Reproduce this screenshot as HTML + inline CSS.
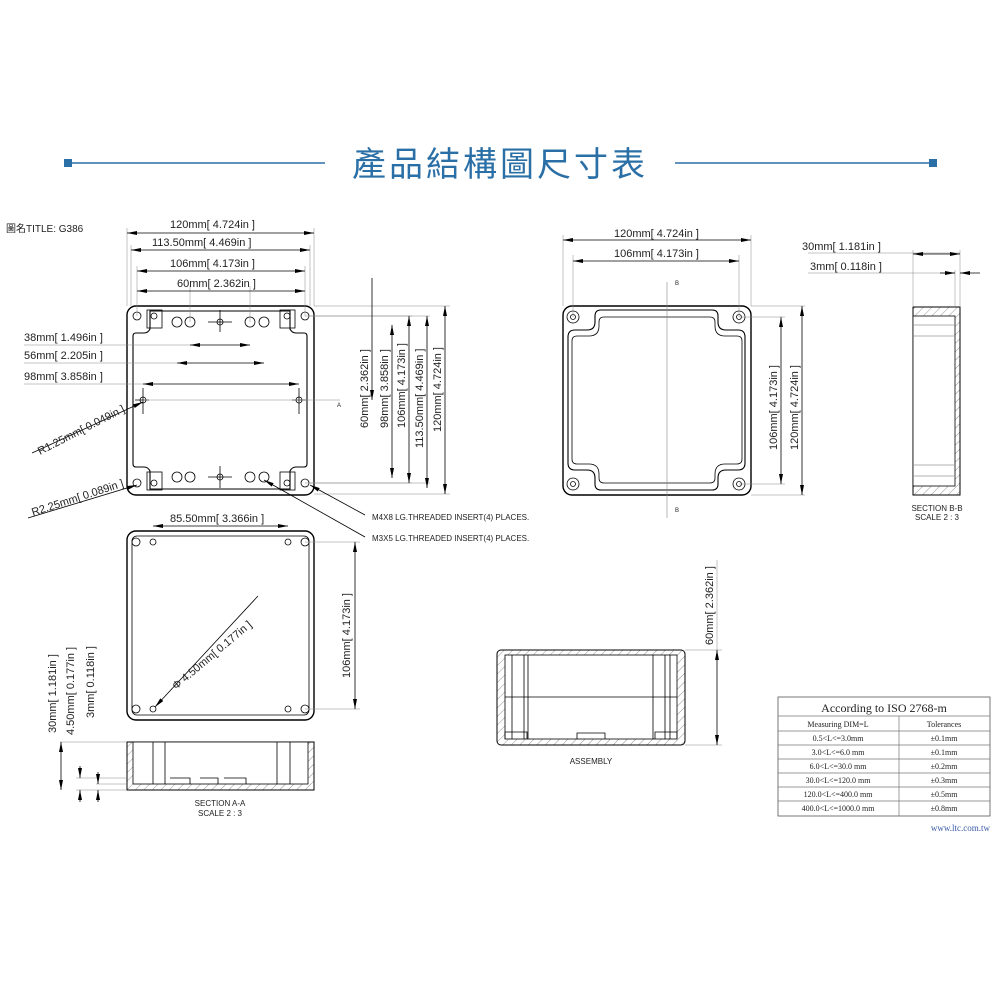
<!DOCTYPE html>
<html><head><meta charset="utf-8"><style>
html,body{margin:0;padding:0;background:#fff;}
svg{display:block;}
text{font-family:"Liberation Sans","Noto Sans CJK TC",sans-serif;fill:#222;}
</style></head><body>
<svg width="1000" height="1000" viewBox="0 0 1000 1000" xmlns="http://www.w3.org/2000/svg">
<defs>
<marker id="a" viewBox="0 0 10 4" refX="10" refY="2" markerWidth="10" markerHeight="4" orient="auto-start-reverse" markerUnits="userSpaceOnUse"><path d="M0,0L10,2L0,4z" fill="#000"/></marker>
<pattern id="h" width="6" height="6" patternUnits="userSpaceOnUse" patternTransform="rotate(45)"><line x1="0" y1="0" x2="0" y2="6" stroke="#666" stroke-width="0.7"/></pattern>
</defs>
<!-- header -->
<line x1="68" y1="163" x2="325" y2="163" stroke="#2a6fa6" stroke-width="1.5"/>
<line x1="675" y1="163" x2="933" y2="163" stroke="#2a6fa6" stroke-width="1.5"/>
<rect x="64" y="159" width="8" height="8" fill="#2a6fa6"/>
<rect x="929" y="159" width="8" height="8" fill="#2a6fa6"/>
<text x="500" y="176" font-size="34" text-anchor="middle" style="fill:#2a6fa6;letter-spacing:3px">產品結構圖尺寸表</text>
<text x="6" y="232" font-size="10">圖名TITLE: G386</text>

<g stroke="#000" fill="none" stroke-width="0.8">
<!-- top-left view -->
<rect x="127" y="306" width="187" height="189" rx="9" stroke-width="1.4"/>
<path d="M133,336 q0,-3 3,-3 h8 q4,0 6,-4 v-18 h140 v18 q2,4 6,4 h8 q3,0 3,3 v128 q0,3 -3,3 h-8 q-4,0 -6,4 v18 h-140 v-18 q-2,-4 -6,-4 h-8 q-3,0 -3,-3z" stroke-width="1.1"/>
<rect x="147" y="310" width="15" height="18"/><rect x="280" y="310" width="15" height="18"/>
<rect x="147" y="472" width="15" height="18"/><rect x="280" y="472" width="15" height="18"/>
<circle cx="137" cy="316" r="4"/><circle cx="305" cy="316" r="4"/><circle cx="137" cy="483" r="4"/><circle cx="305" cy="483" r="4"/>
<circle cx="154" cy="316" r="3"/><circle cx="287" cy="316" r="3"/><circle cx="154" cy="483" r="3"/><circle cx="287" cy="483" r="3"/>
<circle cx="177" cy="322" r="5"/><circle cx="190" cy="322" r="5"/><circle cx="250" cy="322" r="5"/><circle cx="264" cy="322" r="5"/>
<circle cx="177" cy="477" r="5"/><circle cx="190" cy="477" r="5"/><circle cx="250" cy="477" r="5"/><circle cx="264" cy="477" r="5"/>
<path d="M208,322 h24 M220,310 v22 M143,388 v26 M135,400 h14 M299,388 v26 M292,400 h14 M208,477 h24 M220,466 v22"/>
<circle cx="220" cy="322" r="3"/><circle cx="143" cy="400" r="3"/><circle cx="299" cy="400" r="3"/><circle cx="220" cy="477" r="3"/>
<!-- dims top -->
<path d="M127,306 V228 M314,306 V228 M131,306 V245 M310,306 V245 M137,316 V266 M305,316 V266 M190,322 V286 M250,322 V286" stroke="#888" stroke-width="0.5"/>
<line x1="127" y1="233" x2="314" y2="233" marker-start="url(#a)" marker-end="url(#a)"/>
<line x1="131" y1="250" x2="310" y2="250" marker-start="url(#a)" marker-end="url(#a)"/>
<line x1="137" y1="271" x2="305" y2="271" marker-start="url(#a)" marker-end="url(#a)"/>
<line x1="137" y1="291" x2="305" y2="291" marker-start="url(#a)" marker-end="url(#a)"/>
<line x1="190" y1="345" x2="250" y2="345" marker-start="url(#a)" marker-end="url(#a)"/>
<line x1="177" y1="363" x2="264" y2="363" marker-start="url(#a)" marker-end="url(#a)"/>
<line x1="143" y1="384" x2="299" y2="384" marker-start="url(#a)" marker-end="url(#a)"/>
<path d="M24,345 H190 M24,363 H177 M24,384 H143 M143,400 H340 M314,306 H450 M310,316 H430 M305,316 H412 M305,483 H412 M310,483 H430 M314,494 H450" stroke="#888" stroke-width="0.5"/>
<line x1="372" y1="278" x2="372" y2="400" marker-end="url(#a)"/>
<line x1="392" y1="325" x2="392" y2="478" marker-start="url(#a)" marker-end="url(#a)"/>
<line x1="409" y1="316" x2="409" y2="483" marker-start="url(#a)" marker-end="url(#a)"/>
<line x1="427" y1="316" x2="427" y2="488" marker-start="url(#a)" marker-end="url(#a)"/>
<line x1="445" y1="306" x2="445" y2="494" marker-start="url(#a)" marker-end="url(#a)"/>
<line x1="32" y1="453" x2="143" y2="402" marker-end="url(#a)"/>
<line x1="28" y1="518" x2="137" y2="485" marker-end="url(#a)"/>
<line x1="365" y1="515" x2="310" y2="485" marker-end="url(#a)"/>
<line x1="365" y1="537" x2="264" y2="480" marker-end="url(#a)"/>
<!-- bottom view -->
<rect x="127" y="531" width="187" height="189" rx="9" stroke-width="1.4"/>
<rect x="132" y="536" width="177" height="179" rx="5"/>
<circle cx="136" cy="542" r="4"/><circle cx="305" cy="542" r="4"/><circle cx="136" cy="709" r="4"/><circle cx="305" cy="709" r="4"/>
<circle cx="153" cy="542" r="3"/><circle cx="288" cy="542" r="3"/><circle cx="153" cy="709" r="3"/><circle cx="288" cy="709" r="3"/>
<line x1="153" y1="526" x2="288" y2="526" marker-start="url(#a)" marker-end="url(#a)"/>
<path d="M305,542 H360 M305,709 H360" stroke="#888" stroke-width="0.5"/>
<line x1="355" y1="542" x2="355" y2="709" marker-start="url(#a)" marker-end="url(#a)"/>
<line x1="258" y1="596" x2="155" y2="707" marker-end="url(#a)"/>
<!-- section A-A -->
<rect x="127" y="742" width="187" height="48" fill="url(#h)" stroke-width="1"/>
<rect x="133" y="742" width="175" height="42" fill="#fff"/>
<path d="M153,742 V784 M165,742 V784 M277,742 V784 M290,742 V784 M170,778 h20 v6 M200,778 h18 v6 M224,778 h22 v6"/>
<path d="M60,742 H127 M76,778 H127 M96,784 H127 M76,790 H127" stroke="#888" stroke-width="0.5"/>
<line x1="61" y1="742" x2="61" y2="790" marker-start="url(#a)" marker-end="url(#a)"/>
<line x1="80" y1="766" x2="80" y2="778" marker-end="url(#a)"/><line x1="80" y1="802" x2="80" y2="790" marker-end="url(#a)"/>
<line x1="98" y1="772" x2="98" y2="784" marker-end="url(#a)"/><line x1="98" y1="802" x2="98" y2="790" marker-end="url(#a)"/>
<!-- top-right view -->
<rect x="563" y="306" width="188" height="189" rx="9" stroke-width="1.4"/>
<path d="M568,337 q0,-7 7,-7 h12 q8,0 8,-8 v-6 q0,-6 6,-6 h111 q6,0 6,6 v6 q0,8 8,8 h12 q7,0 7,7 v126 q0,7 -7,7 h-12 q-8,0 -8,8 v6 q0,6 -6,6 h-111 q-6,0 -6,-6 v-6 q0,-8 -8,-8 h-12 q-7,0 -7,-7z" stroke-width="1.1"/>
<path d="M572,341 q0,-5 5,-5 h12 q10,0 10,-10 v-4 q0,-5 5,-5 h106 q5,0 5,5 v4 q0,10 10,10 h12 q5,0 5,5 v118 q0,5 -5,5 h-12 q-10,0 -10,10 v4 q0,5 -5,5 h-106 q-5,0 -5,-5 v-4 q0,-10 -10,-10 h-12 q-5,0 -5,-5z"/>
<circle cx="573" cy="317" r="6"/><circle cx="573" cy="317" r="2.5"/><circle cx="739" cy="317" r="6"/><circle cx="739" cy="317" r="2.5"/>
<circle cx="573" cy="484" r="6"/><circle cx="573" cy="484" r="2.5"/><circle cx="739" cy="484" r="6"/><circle cx="739" cy="484" r="2.5"/>
<line x1="667" y1="282" x2="667" y2="518" stroke="#888" stroke-width="0.6"/>
<path d="M563,306 V235 M751,306 V235 M573,317 V255 M739,317 V255 M739,317 H785 M739,484 H785 M751,306 H805 M751,495 H805" stroke="#888" stroke-width="0.5"/>
<line x1="563" y1="240" x2="751" y2="240" marker-start="url(#a)" marker-end="url(#a)"/>
<line x1="573" y1="261" x2="739" y2="261" marker-start="url(#a)" marker-end="url(#a)"/>
<line x1="781" y1="317" x2="781" y2="484" marker-start="url(#a)" marker-end="url(#a)"/>
<line x1="802" y1="306" x2="802" y2="495" marker-start="url(#a)" marker-end="url(#a)"/>
<!-- section B-B -->
<rect x="913" y="307" width="47" height="188" fill="url(#h)" stroke-width="1"/>
<rect x="913" y="316" width="42" height="170" fill="#fff"/>
<path d="M913,336 H955 M913,465 H955 M913,325 H955 M913,476 H955" stroke="#999"/>
<path d="M808,253 H960 M808,273 H955 M913,307 V250 M960,307 V250 M955,307 V270" stroke="#888" stroke-width="0.5"/>
<line x1="913" y1="254" x2="960" y2="254" marker-start="url(#a)" marker-end="url(#a)"/>
<line x1="940" y1="273" x2="955" y2="273" marker-end="url(#a)"/><line x1="980" y1="273" x2="960" y2="273" marker-end="url(#a)"/>
<!-- assembly -->
<rect x="497" y="650" width="188" height="95" rx="4" fill="url(#h)" stroke-width="1"/>
<rect x="505" y="655" width="172" height="84" fill="#fff"/>
<path d="M505,697 H677 M512,655 V739 M524,655 V739 M528,655 V739 M653,655 V739 M665,655 V739 M670,655 V739 M577,739 v-6 h28 v6 M505,739 v-7 h22 v7 M655,739 v-7 h22 v7"/>
<path d="M685,650 H722 M685,745 H722" stroke="#888" stroke-width="0.5"/>
<line x1="717" y1="560" x2="717" y2="650" stroke="#888" stroke-width="0.5"/>
<line x1="717" y1="650" x2="717" y2="745" marker-start="url(#a)" marker-end="url(#a)"/>
<!-- table -->
<rect x="778" y="697" width="212" height="119" stroke="#555"/>
<path d="M778,716 H990 M778,731 H990 M778,745 H990 M778,759 H990 M778,773 H990 M778,787 H990 M778,801 H990 M899,716 V816" stroke="#777" stroke-width="0.7"/>
</g>

<g font-size="11">
<text x="170" y="228">120mm[ 4.724in ]</text>
<text x="152" y="246">113.50mm[ 4.469in ]</text>
<text x="170" y="267">106mm[ 4.173in ]</text>
<text x="177" y="287">60mm[ 2.362in ]</text>
<text x="24" y="341">38mm[ 1.496in ]</text>
<text x="24" y="359">56mm[ 2.205in ]</text>
<text x="24" y="380">98mm[ 3.858in ]</text>
<text x="0" y="0" transform="translate(40,455) rotate(-27)">R1.25mm[ 0.049in ]</text>
<text x="0" y="0" transform="translate(33,516) rotate(-18)">R2.25mm[ 0.089in ]</text>
<text transform="translate(368,428) rotate(-90)">60mm[ 2.362in ]</text>
<text transform="translate(388,428) rotate(-90)">98mm[ 3.858in ]</text>
<text transform="translate(405,428) rotate(-90)">106mm[ 4.173in ]</text>
<text transform="translate(423,448) rotate(-90)">113.50mm[ 4.469in ]</text>
<text transform="translate(441,432) rotate(-90)">120mm[ 4.724in ]</text>
<text x="170" y="522">85.50mm[ 3.366in ]</text>
<text transform="translate(350,678) rotate(-90)">106mm[ 4.173in ]</text>
<text transform="translate(176,690) rotate(-40)">Φ 4.50mm[ 0.177in ]</text>
<text transform="translate(56,733) rotate(-90)">30mm[ 1.181in ]</text>
<text transform="translate(74,735) rotate(-90)">4.50mm[ 0.177in ]</text>
<text transform="translate(94,718) rotate(-90)">3mm[ 0.118in ]</text>
<text x="614" y="237">120mm[ 4.724in ]</text>
<text x="614" y="257">106mm[ 4.173in ]</text>
<text x="802" y="250">30mm[ 1.181in ]</text>
<text x="810" y="270">3mm[ 0.118in ]</text>
<text transform="translate(777,450) rotate(-90)">106mm[ 4.173in ]</text>
<text transform="translate(798,450) rotate(-90)">120mm[ 4.724in ]</text>
<text transform="translate(713,645) rotate(-90)">60mm[ 2.362in ]</text>
</g>
<g font-size="8">
<text x="372" y="520">M4X8 LG.THREADED INSERT(4) PLACES.</text>
<text x="372" y="541">M3X5 LG.THREADED INSERT(4) PLACES.</text>
<text x="220" y="806" text-anchor="middle">SECTION A-A</text>
<text x="220" y="816" text-anchor="middle">SCALE 2 : 3</text>
<text x="937" y="511" text-anchor="middle">SECTION B-B</text>
<text x="937" y="520" text-anchor="middle">SCALE 2 : 3</text>
<text x="591" y="764" text-anchor="middle">ASSEMBLY</text>
<text x="675" y="285" font-size="6">B</text><text x="675" y="512" font-size="6">B</text>
<text x="337" y="407" font-size="6">A</text>
</g>
<g font-family="Liberation Serif" style="font-family:'Liberation Serif',serif">
<text x="884" y="712" font-size="12" text-anchor="middle" style="font-family:'Liberation Serif',serif">According to ISO 2768-m</text>
<g font-size="8" text-anchor="middle" style="font-family:'Liberation Serif',serif">
<text x="838" y="727" style="font-family:'Liberation Serif',serif">Measuring  DIM=L</text><text x="944" y="727" style="font-family:'Liberation Serif',serif">Tolerances</text>
<text x="838" y="741" style="font-family:'Liberation Serif',serif">0.5&lt;L&lt;=3.0mm</text><text x="944" y="741" style="font-family:'Liberation Serif',serif">±0.1mm</text>
<text x="838" y="755" style="font-family:'Liberation Serif',serif">3.0&lt;L&lt;=6.0 mm</text><text x="944" y="755" style="font-family:'Liberation Serif',serif">±0.1mm</text>
<text x="838" y="769" style="font-family:'Liberation Serif',serif">6.0&lt;L&lt;=30.0 mm</text><text x="944" y="769" style="font-family:'Liberation Serif',serif">±0.2mm</text>
<text x="838" y="783" style="font-family:'Liberation Serif',serif">30.0&lt;L&lt;=120.0 mm</text><text x="944" y="783" style="font-family:'Liberation Serif',serif">±0.3mm</text>
<text x="838" y="797" style="font-family:'Liberation Serif',serif">120.0&lt;L&lt;=400.0 mm</text><text x="944" y="797" style="font-family:'Liberation Serif',serif">±0.5mm</text>
<text x="838" y="811" style="font-family:'Liberation Serif',serif">400.0&lt;L&lt;=1000.0 mm</text><text x="944" y="811" style="font-family:'Liberation Serif',serif">±0.8mm</text>
</g>
<text x="990" y="831" font-size="9" text-anchor="end" style="font-family:'Liberation Serif',serif;fill:#3a5aa8">www.ltc.com.tw</text>
</g>
</svg>
</body></html>
